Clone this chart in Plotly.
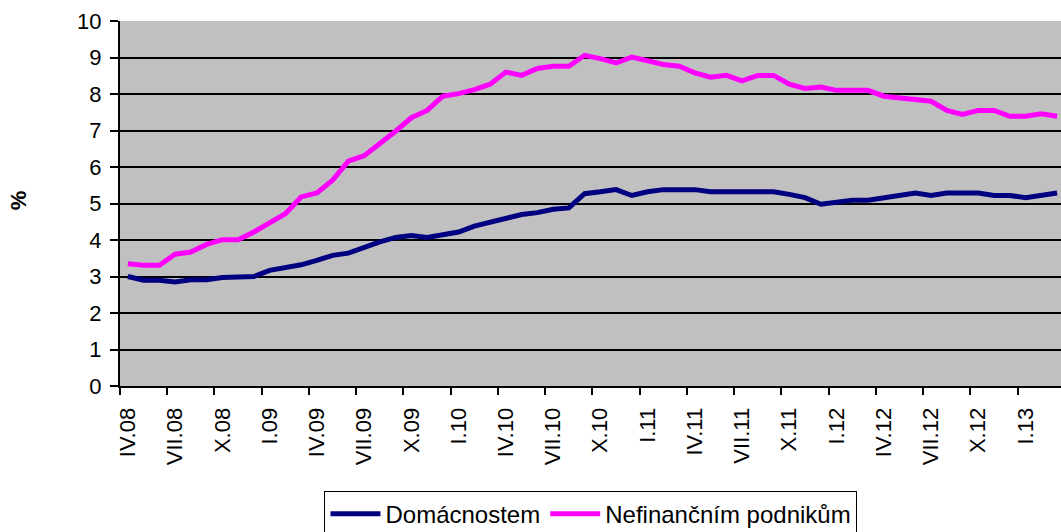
import plotly.graph_objects as go

# Monthly categories IV.08 .. III.13 (Roman month . two-digit year)
roman = ["I", "II", "III", "IV", "V", "VI", "VII", "VIII", "IX", "X", "XI", "XII"]
months = []
for k in range(60):
    m = (3 + k) % 12
    y = 8 + (3 + k) // 12
    months.append(f"{roman[m]}.{y:02d}")

# Interest rates, %
domacnostem = [
    3.00, 2.90, 2.90, 2.85, 2.91, 2.91, 2.97, 3.00, 3.00, 3.17,
    3.23, 3.32, 3.44, 3.58, 3.64, 3.81, 3.95, 4.07, 4.12, 4.07,
    4.13, 4.22, 4.38, 4.49, 4.61, 4.70, 4.75, 4.84, 4.88, 5.27,
    5.32, 5.38, 5.22, 5.32, 5.38, 5.38, 5.38, 5.32, 5.32, 5.32,
    5.32, 5.32, 5.25, 5.16, 4.98, 5.04, 5.09, 5.09, 5.16, 5.25,
    5.29, 5.22, 5.29, 5.29, 5.29, 5.22, 5.22, 5.16, 5.22, 5.29,
]
nefinancnim = [
    3.35, 3.31, 3.31, 3.61, 3.67, 3.88, 4.01, 4.01, 4.22, 4.47,
    4.72, 5.18, 5.29, 5.64, 6.16, 6.31, 6.64, 6.98, 7.35, 7.55,
    7.94, 8.01, 8.12, 8.27, 8.60, 8.51, 8.70, 8.76, 8.76, 9.06,
    8.97, 8.85, 9.01, 8.92, 8.81, 8.76, 8.58, 8.46, 8.51, 8.36,
    8.51, 8.51, 8.27, 8.15, 8.19, 8.10, 8.10, 8.10, 7.94, 7.89,
    7.85, 7.80, 7.55, 7.44, 7.55, 7.55, 7.39, 7.39, 7.46, 7.39,
]

# category positions; labels every third month, tick marks between months
idx = list(range(len(months)))
label_pos = idx[::3]
label_text = months[::3]
boundary_pos = [i - 0.5 for i in label_pos]
x_range = [-0.5, 59.25]

FONT = "Liberation Sans, Arial, sans-serif"

fig = go.Figure()
fig.add_trace(go.Scatter(
    x=idx, y=domacnostem, mode="lines", name="Domácnostem",
    text=months, line=dict(color="#000080", width=5),
    xaxis="x", yaxis="y",
))
fig.add_trace(go.Scatter(
    x=idx, y=nefinancnim, mode="lines", name="Nefinančním podnikům",
    text=months, line=dict(color="#FF00FF", width=5),
    xaxis="x2", yaxis="y",
))

fig.update_layout(
    width=1061, height=532,
    margin=dict(l=120, r=0, t=21, b=146, autoexpand=False),
    paper_bgcolor="white",
    plot_bgcolor="#C0C0C0",
    font=dict(family=FONT, size=22, color="black"),
    showlegend=True,
    legend=dict(
        orientation="h", x=0.5005, xanchor="center", y=-0.287, yanchor="top",
        bordercolor="black", borderwidth=1, bgcolor="white",
        font=dict(size=24), itemwidth=50, tracegroupgap=0,
    ),
    xaxis=dict(
        type="linear", range=x_range, automargin=False,
        tickmode="array", tickvals=label_pos, ticktext=label_text,
        tickangle=-90, ticks="outside", ticklen=11,
        tickcolor="rgba(0,0,0,0)",
        showgrid=False, zeroline=False,
        showline=True, linecolor="black", linewidth=2,
        tickfont=dict(size=22),
    ),
    xaxis2=dict(
        type="linear", overlaying="x", anchor="y", side="bottom",
        range=x_range, automargin=False, tickmode="array", tickvals=boundary_pos,
        ticks="outside", ticklen=8, tickwidth=2, tickcolor="black",
        showticklabels=False, showgrid=False, zeroline=False, showline=False,
    ),
    yaxis=dict(
        range=[0, 10], dtick=1, tick0=0, automargin=False,
        ticks="outside", ticklen=8, tickwidth=2, tickcolor="black",
        showgrid=True, gridcolor="black", gridwidth=2,
        zeroline=False, showline=True, linecolor="black", linewidth=2,
        tickfont=dict(size=22), ticklabelstandoff=4,
    ),
    annotations=[dict(
        text="<b>%</b>", xref="paper", yref="paper",
        x=(18 - 120) / 941, y=(385.7 - 200) / 364.7,
        xanchor="center", yanchor="middle",
        showarrow=False, textangle=-90, font=dict(size=22),
    )],
)

fig.write_html("out.html")
